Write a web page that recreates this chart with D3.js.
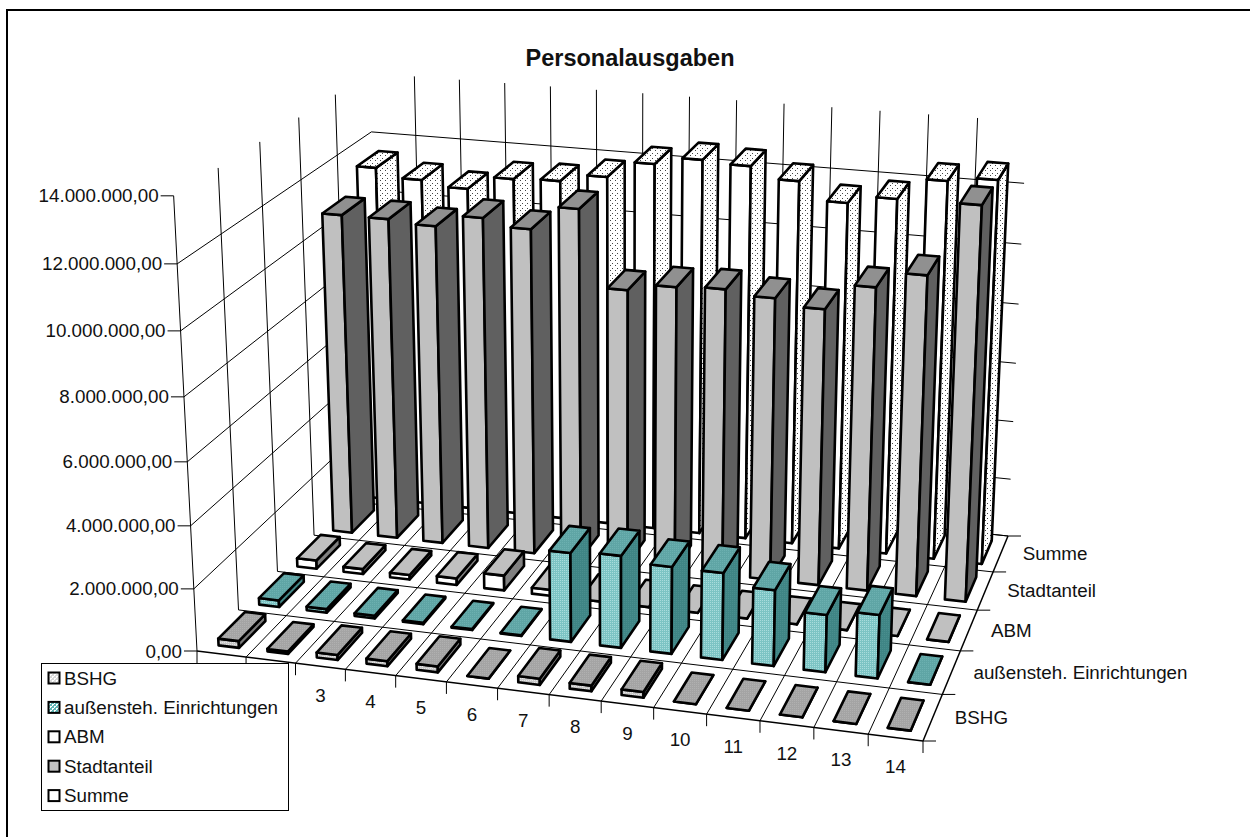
<!DOCTYPE html>
<html>
<head>
<meta charset="utf-8">
<script src="https://cdnjs.cloudflare.com/ajax/libs/d3/7.8.5/d3.min.js"></script>
<style>
body { margin: 0; background: #fff; }
text { font-family: "Liberation Sans", Arial, sans-serif; fill: #111; }
</style>
</head>
<body>
<div id="chart"></div>
<script>
var categories = ["1","2","3","4","5","6","7","8","9","10","11","12","13","14"];
var seriesNames = ["BSHG","außensteh. Einrichtungen","ABM","Stadtanteil","Summe"];
var valueTicks = [0,2000000,4000000,6000000,8000000,10000000,12000000,14000000];

var bshg = [220000,80000,160000,160000,190000,0,200000,180000,180000,0,0,0,0,0];
var aussen = [220000,120000,90000,50000,30000,20000,2880000,2970000,2800000,2790000,2430000,1830000,2020000,0];
var abm = [280000,170000,150000,220000,500000,200000,0,0,0,0,0,0,0,0];
var stadt = [10790000,10790000,10690000,11090000,10860000,11640000,9160000,9400000,9470000,9330000,9120000,9960000,10480000,12800000];
var summe = [11520000,11240000,11070000,11520000,11580000,11840000,12390000,12650000,12570000,12210000,11630000,11890000,12590000,12750000];

var width = 1250, height = 837;
var maxValue = 14000000;

var xScale = d3.scaleLinear().domain([0, categories.length]).range([0, 1]);
var dScale = d3.scaleLinear().domain([0, seriesNames.length]).range([0, 1]);
var zScale = d3.scaleLinear().domain([0, maxValue]).range([0, 1]);

function solve(A, b) {
    var n = b.length, M = A.map(function(r, i) { return r.concat([b[i]]); });
    for (var c = 0; c < n; c++) {
        var p = c;
        for (var r = c + 1; r < n; r++) if (Math.abs(M[r][c]) > Math.abs(M[p][c])) p = r;
        var t = M[c]; M[c] = M[p]; M[p] = t;
        for (var r2 = 0; r2 < n; r2++) {
            if (r2 == c) continue;
            var f = M[r2][c] / M[c][c];
            for (var k = c; k <= n; k++) M[r2][k] -= f * M[c][k];
        }
    }
    return M.map(function(r, i) { return r[n] / r[i]; });
}

// floor corners and wall top corners of the 3d box
var floorCorners = [[0,0,197,651],[1,0,923,741],[1,1,1008,536],[0,1,381,469]];
var topCorners = [[0,0,172,193],[1,1,1027,120],[0,1,371,77]];

var A = [], b = [];
floorCorners.forEach(function(c) {
    A.push([c[0],c[1],1,0,0,0,-c[2]*c[0],-c[2]*c[1]]); b.push(c[2]);
    A.push([0,0,0,c[0],c[1],1,-c[3]*c[0],-c[3]*c[1]]); b.push(c[3]);
});
var h = solve(A, b);
function floorHom(x, d) {
    return [h[0]*x+h[1]*d+h[2], h[3]*x+h[4]*d+h[5], h[6]*x+h[7]*d+1];
}
// vertical column of the camera matrix, least squares over the top corners
var rows = [], rhs = [];
topCorners.forEach(function(c) {
    var f = floorHom(c[0], c[1]);
    rows.push([1,0,-c[2]]); rhs.push(c[2]*f[2]-f[0]);
    rows.push([0,1,-c[3]]); rhs.push(c[3]*f[2]-f[1]);
});
var ata = [0,1,2].map(function(i) { return [0,1,2].map(function(j) { return d3.sum(rows, function(r) { return r[i]*r[j]; }); }); });
var atb = [0,1,2].map(function(i) { return d3.sum(rows, function(r, k) { return r[i]*rhs[k]; }); });
var v = solve(ata, atb);

function project(cat, depth, value) {
    var x = xScale(cat), d = dScale(depth), z = zScale(value);
    var f = floorHom(x, d);
    var w = f[2] + v[2]*z;
    return [(f[0] + v[0]*z)/w, (f[1] + v[1]*z)/w];
}

var svg = d3.select("#chart").append("svg").attr("width", width).attr("height", height);
var defs = svg.append("defs");
function dots(id, size, bg, fg, cells) {
    var p = defs.append("pattern").attr("id", id).attr("patternUnits", "userSpaceOnUse").attr("width", size).attr("height", size);
    p.append("rect").attr("width", size).attr("height", size).attr("fill", bg);
    cells.forEach(function(c) {
        p.append("rect").attr("x", c[0]).attr("y", c[1]).attr("width", 1).attr("height", 1).attr("fill", fg);
    });
}
dots("pSumme", 5, "#fff", "#444", [[0,0],[2,3]]);
dots("pTealFront", 2, "#7cc4c4", "#a8dcdc", [[0,0]]);
dots("pTealTop", 2, "#5fa5a5", "#6cb0b0", [[0,0]]);
dots("pTealSide", 2, "#3f8585", "#4a8e8e", [[0,0]]);
dots("pGreyFront", 2, "#c8c8c8", "#e6e6e6", [[0,0]]);
dots("pGreyTop", 2, "#a4a4a4", "#b0b0b0", [[0,0]]);
dots("pGreySwatch", 4, "#d8d8d8", "#fff", [[0,0],[1,0],[0,1],[2,2],[3,2],[2,3]]);
dots("pTealSwatch", 4, "#5fb5b5", "#fff", [[0,0],[1,0],[0,1],[2,2],[3,2],[2,3]]);

var styles = [
    {front: "url(#pGreyFront)", top: "url(#pGreyTop)", side: "#7a7a7a", swatch: "url(#pGreySwatch)"},
    {front: "url(#pTealFront)", top: "url(#pTealTop)", side: "url(#pTealSide)", swatch: "url(#pTealSwatch)"},
    {front: "#fff", top: "#c0c0c0", side: "#808080", swatch: "#fff"},
    {front: "#c0c0c0", top: "#909090", side: "#606060", swatch: "#c0c0c0"},
    {front: "#fff", top: "url(#pSumme)", side: "url(#pSumme)", swatch: "#fff"}
];

var line = d3.line();
function seg(g, a, b, w) {
    g.append("path").attr("d", line([a, b])).attr("stroke", "#000").attr("stroke-width", w || 1).attr("fill", "none");
}

// border
svg.append("path").attr("d", "M7,837V10H1250").attr("fill", "none").attr("stroke", "#000").attr("stroke-width", 2);

svg.append("text").attr("x", 630).attr("y", 66).attr("text-anchor", "middle")
    .attr("font-size", 23.5).attr("font-weight", "bold").text("Personalausgaben");

var grid = svg.append("g");
var nCat = categories.length, nSer = seriesNames.length;

// walls, the 14 million line itself is not drawn
valueTicks.forEach(function(t) {
    if (t == maxValue) return;
    seg(grid, project(0,nSer,t), project(nCat,nSer,t));
    if (t > 0) seg(grid, project(0,0,t), project(0,nSer,t));
});
d3.range(1, nCat).forEach(function(i) { seg(grid, project(i,nSer,0), project(i,nSer,maxValue)); });
d3.range(1, nSer).forEach(function(i) { seg(grid, project(0,i,0), project(0,i,maxValue)); });

// floor
d3.range(1, nSer+1).forEach(function(i) { seg(grid, project(0,i,0), project(nCat,i,0)); });
d3.range(1, nCat).forEach(function(i) { seg(grid, project(i,0,0), project(i,nSer,0)); });

// axes
seg(grid, project(0,0,0), project(0,0,maxValue), 1);
seg(grid, project(0,0,0), project(nCat,0,0), 1.5);
seg(grid, project(nCat,0,0), project(nCat,nSer,0), 1.5);

var tickFormat = d3.formatLocale({decimal: ",", thousands: ".", grouping: [3], currency: ["", ""]}).format(",.2f");
valueTicks.forEach(function(t) {
    var p = project(0,0,t);
    seg(grid, [p[0]-13, p[1]], p);
    grid.append("text").attr("x", p[0]-15).attr("y", p[1]).attr("dy", "0.35em").attr("text-anchor", "end")
        .attr("font-size", 18.8).text(tickFormat(t));
});
d3.range(0, nCat+1).forEach(function(i) {
    var p = project(i,0,0);
    seg(grid, p, [p[0], p[1]+12]);
});
// labels 1 and 2 sit under the legend box
categories.forEach(function(c, i) {
    if (i < 2) return;
    var p = project(i+0.5,0,0);
    grid.append("text").attr("x", p[0]).attr("y", p[1]+29).attr("dy", "0.35em").attr("text-anchor", "middle")
        .attr("font-size", 18.8).text(c);
});
d3.range(0, nSer+1).forEach(function(i) {
    var p = project(nCat,i,0);
    seg(grid, p, [p[0]+13, p[1]]);
});
seriesNames.forEach(function(s, i) {
    var p = project(nCat,i+0.5,0);
    grid.append("text").attr("x", p[0]+22).attr("y", p[1]).attr("dy", "0.35em")
        .attr("font-size", 18.8).text(s);
});

var barW = 0.42, barD = 0.65;

var allSeries = [bshg, aussen, abm, stadt, summe];

// back row first, left to right
var bars = [];
d3.range(nSer-1, -1, -1).forEach(function(r) {
    allSeries[r].forEach(function(val, i) { bars.push({r: r, i: i, val: val}); });
});
var barG = svg.selectAll("g.bar").data(bars).enter().append("g").attr("class", "bar")
    .attr("stroke", "#000").attr("stroke-width", 2.6).attr("stroke-linejoin", "round");
function face(pts) { return line(pts) + "Z"; }
barG.append("path").attr("d", function(b) {
    var x0 = b.i+0.5-barW/2, x1 = b.i+0.5+barW/2, d0 = b.r+0.5-barD/2;
    return face([project(x0,d0,0), project(x1,d0,0), project(x1,d0,b.val), project(x0,d0,b.val)]);
}).attr("fill", function(b) { return styles[b.r].front; });
barG.append("path").attr("d", function(b) {
    var x1 = b.i+0.5+barW/2, d0 = b.r+0.5-barD/2, d1 = b.r+0.5+barD/2;
    return face([project(x1,d0,0), project(x1,d1,0), project(x1,d1,b.val), project(x1,d0,b.val)]);
}).attr("fill", function(b) { return styles[b.r].side; });
barG.append("path").attr("d", function(b) {
    var x0 = b.i+0.5-barW/2, x1 = b.i+0.5+barW/2, d0 = b.r+0.5-barD/2, d1 = b.r+0.5+barD/2;
    return face([project(x0,d0,b.val), project(x1,d0,b.val), project(x1,d1,b.val), project(x0,d1,b.val)]);
}).attr("fill", function(b) { return styles[b.r].top; });

// legend
var legend = svg.append("g");
legend.append("rect").attr("x", 41.5).attr("y", 663.5).attr("width", 247).attr("height", 147).attr("fill", "#fff").attr("stroke", "#000");
seriesNames.forEach(function(s, i) {
    var y = 678 + i*29.4;
    legend.append("rect").attr("x", 48.5).attr("y", y-5.5).attr("width", 11).attr("height", 11)
        .attr("fill", styles[i].swatch).attr("stroke", "#000").attr("stroke-width", 2);
    legend.append("text").attr("x", 64).attr("y", y).attr("dy", "0.35em").attr("font-size", 18.8).text(s);
});
</script>
</body>
</html>
